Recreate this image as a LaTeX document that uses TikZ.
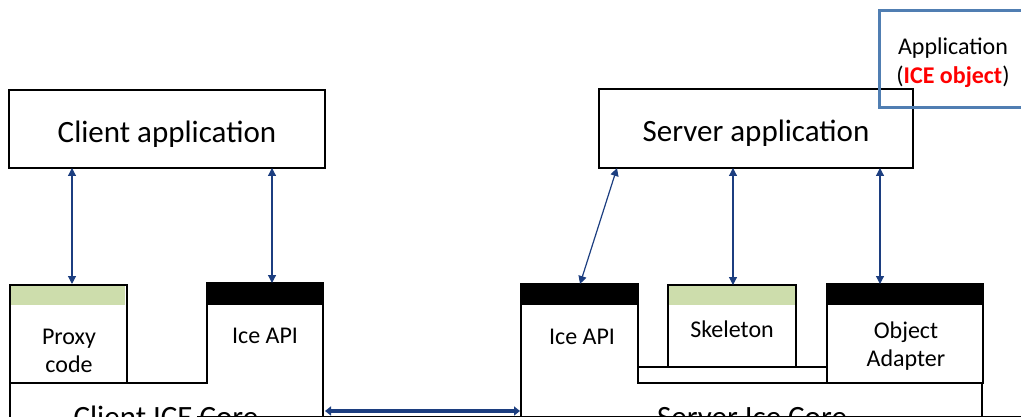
\documentclass[tikz,border=0pt]{standalone}
\usepackage{fontspec}
\setmainfont{Carlito}
\usetikzlibrary{arrows.meta}
\definecolor{navy}{RGB}{28,62,128}
\definecolor{bandgreen}{RGB}{205,221,172}
\definecolor{appblue}{RGB}{80,126,178}
\begin{document}
\begin{tikzpicture}[x=1pt,y=-1pt,
  box/.style={draw=black,line width=1.5pt,inner sep=0pt,outer sep=0pt},
  outline/.style={draw=black,line width=1.5pt},
  conn/.style={draw=navy,line width=1.2pt,{Triangle[length=8pt,width=8pt]}-{Triangle[length=8pt,width=8pt]}},
  bigconn/.style={draw=navy,line width=4pt,{Triangle[length=6pt,width=9pt]}-{Triangle[length=6pt,width=9pt]}},
  bigtxt/.style={anchor=base,inner sep=0pt,font=\fontsize{31}{37}\selectfont},
  smalltxt/.style={anchor=base,inner sep=0pt,font=\fontsize{24}{28}\selectfont},
  greenband/.style={fill=bandgreen},
  blackband/.style={fill=black}]
\useasboundingbox (0,0) rectangle (1021,417);
\clip (0,0) rectangle (1021,417);

% application boxes
\node[box,minimum width=316pt,minimum height=78pt] (capp) at (167,129) {};
\node[box,minimum width=314pt,minimum height=79pt] (sapp) at (756,128.5) {};
\node[bigtxt] (capptxt) at (167,143) {Client application};
\node[bigtxt] (sapptxt) at (756,142) {Server application};

% ICE object callout
\node[draw=appblue,line width=3pt,minimum width=160pt,minimum height=97pt,inner sep=0pt] (iceobj) at (959,59.5) {};
\node[smalltxt] (iceobj1) at (953,55) {Application};
\node[smalltxt] (iceobj2) at (953,84) {(\textbf{\color{red}ICE object})};

% client side
\fill[greenband] (11,286) rectangle (125,305);
\node[box,minimum width=117pt,minimum height=98pt] (proxy) at (68.5,334) {};
\fill[blackband] (208,283) rectangle (323,305);
\draw[outline] (10,440) -- (10,383) -- (207,383) -- (207,283) -- (323,283) -- (323,440);
\node[smalltxt] (proxy1) at (69,344) {Proxy};
\node[smalltxt] (proxy2) at (69,372) {code};
\node[smalltxt] (capi) at (265,343) {Ice API};
\node[bigtxt] (ccore) at (166,427) {Client ICE Core};

% server side
\fill[blackband] (521,284) rectangle (638,305);
\draw[outline] (521,440) -- (521,284) -- (638,284) -- (638,383) -- (982,383) -- (982,440);
\draw[outline] (638,367) -- (827,367);
\fill[greenband] (669,286) rectangle (795,305);
\node[box,minimum width=128pt,minimum height=82pt] (skel) at (732,326) {};
\fill[blackband] (827,284) rectangle (983,305);
\node[box,minimum width=156pt,minimum height=99pt] (oa) at (905,333.5) {};
\node[smalltxt] (sapi) at (582,344) {Ice API};
\node[smalltxt] (skeltxt) at (732,337) {Skeleton};
\node[smalltxt] (oa1) at (906,338) {Object};
\node[smalltxt] (oa2) at (906,366) {Adapter};
\node[bigtxt] (score) at (752,427) {Server Ice Core};

\draw[line width=0.8pt] (197,416) -- (1021,416);

% connectors
\coordinate (c1t) at (72,168);  \coordinate (c1b) at (72,284);
\coordinate (c2t) at (272,168); \coordinate (c2b) at (272,283);
\coordinate (s1t) at (617,168); \coordinate (s1b) at (580,284);
\coordinate (s2t) at (733,168); \coordinate (s2b) at (733,285);
\coordinate (s3t) at (880,168); \coordinate (s3b) at (880,284);
\draw[conn] (c1t) -- (c1b);
\draw[conn] (c2t) -- (c2b);
\draw[conn] (s1t) -- (s1b);
\draw[conn] (s2t) -- (s2b);
\draw[conn] (s3t) -- (s3b);
\coordinate (ccr) at (325,411);
\coordinate (scl) at (520,411);
\draw[bigconn] (ccr) -- (scl);
\end{tikzpicture}
\end{document}
